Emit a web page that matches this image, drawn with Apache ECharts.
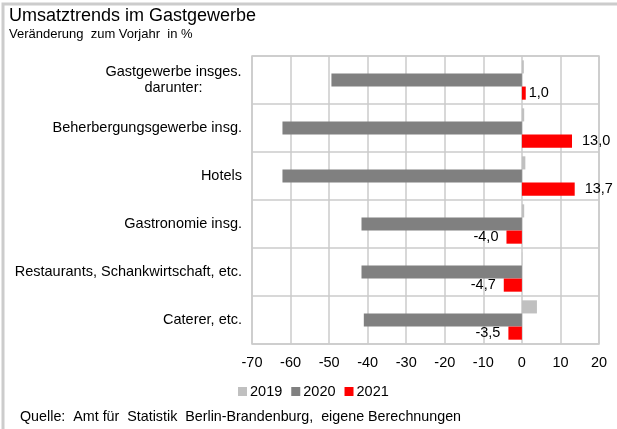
<!DOCTYPE html>
<html>
<head>
<meta charset="utf-8">
<script src="https://cdn.jsdelivr.net/npm/echarts@6/dist/echarts.min.js"></script>
<style>
  html, body { margin: 0; padding: 0; background: #fff; }
  #chart { width: 617px; height: 429px; }
</style>
</head>
<body>
<div id="chart"></div>
<script>
const categories = [
  'Gastgewerbe insges.\ndarunter:',
  'Beherbergungsgewerbe insg.',
  'Hotels',
  'Gastronomie insg.',
  'Restaurants, Schankwirtschaft, etc.',
  'Caterer, etc.'
]
const years = ['2019', '2020', '2021']
const values2019 = [0.5, 0.6, 0.9, 0.6, 0.1, 3.9]
const values2020 = [-49.4, -62.1, -62.1, -41.6, -41.6, -41.0]
const values2021 = [1.0, 13.0, 13.7, -4.0, -4.7, -3.5]
const xTicks = { min: -70, max: 20, interval: 10 }

const fontFamily = 'Arial, "Liberation Sans", sans-serif'
const gridColor = '#cbcbcb'
const fs = 14.5

const fmt = v => v.toFixed(1).replace('.', ',')

const chart = echarts.init(document.getElementById('chart'))

chart.setOption({
  animation: false,
  textStyle: { fontFamily },
  graphic: [
    {
      type: 'rect',
      shape: { x: 3, y: 4, width: 700, height: 500 },
      style: { fill: 'none', stroke: '#cccccc', lineWidth: 3 }
    },
    {
      type: 'text', left: 9, top: 7,
      style: { text: 'Umsatztrends im Gastgewerbe', fontSize: 18, fill: '#000', fontFamily }
    },
    {
      type: 'text', left: 9, top: 28,
      style: { text: 'Veränderung  zum Vorjahr  in %', fontSize: 13, fill: '#000', fontFamily }
    },
    {
      type: 'text', left: 20, top: 410,
      style: { text: 'Quelle:  Amt für  Statistik  Berlin-Brandenburg,  eigene Berechnungen', fontSize: 14.3, fill: '#000', fontFamily }
    }
  ],
  legend: {
    data: years,
    left: 238,
    top: 384,
    padding: 0,
    icon: 'rect',
    itemWidth: 9,
    itemHeight: 9,
    itemGap: 9,
    textStyle: { fontSize: fs, color: '#000', fontFamily, padding: [0, 0, 0, -2] }
  },
  grid: {
    left: 252, right: 18, top: 56, bottom: 85,
    show: true, borderColor: gridColor, borderWidth: 1.5
  },
  xAxis: {
    type: 'value',
    min: xTicks.min,
    max: xTicks.max,
    interval: xTicks.interval,
    axisLine: { show: false },
    axisTick: { show: false },
    splitLine: { lineStyle: { color: gridColor, width: 1.5 } },
    axisLabel: { color: '#000', fontSize: fs, margin: 11, fontFamily }
  },
  yAxis: {
    type: 'category',
    inverse: true,
    data: categories,
    axisLine: { show: false },
    axisTick: { show: false },
    splitLine: { show: true, lineStyle: { color: gridColor, width: 1.5 } },
    axisLabel: {
      color: '#000',
      fontSize: fs,
      margin: 10,
      fontFamily,
      formatter: (v, i) => {
        if (i === 0) return '{c|Gastgewerbe insges.}\n{c|darunter:}'
        return v
      },
      rich: {
        c: { width: 137, align: 'center', fontSize: fs, lineHeight: 16, color: '#000', fontFamily }
      }
    }
  },
  series: [
    {
      name: '2019',
      type: 'bar',
      data: values2019,
      barGap: '0%',
      barCategoryGap: '18%',
      itemStyle: { color: '#c0c0c0' }
    },
    {
      name: '2020',
      type: 'bar',
      data: values2020,
      barGap: '0%',
      barCategoryGap: '18%',
      itemStyle: { color: '#808080' }
    },
    {
      name: '2021',
      type: 'bar',
      barGap: '0%',
      barCategoryGap: '18%',
      itemStyle: { color: '#ff0000' },
      data: values2021.map(v => ({
        value: v,
        label: {
          show: true,
          position: v >= 0 ? 'right' : 'left',
          distance: v >= 10 ? 10 : (v >= 0 ? 3 : 8),
          formatter: p => fmt(p.value),
          color: '#000',
          fontSize: fs,
          fontFamily
        }
      }))
    }
  ]
})
</script>
</body>
</html>
